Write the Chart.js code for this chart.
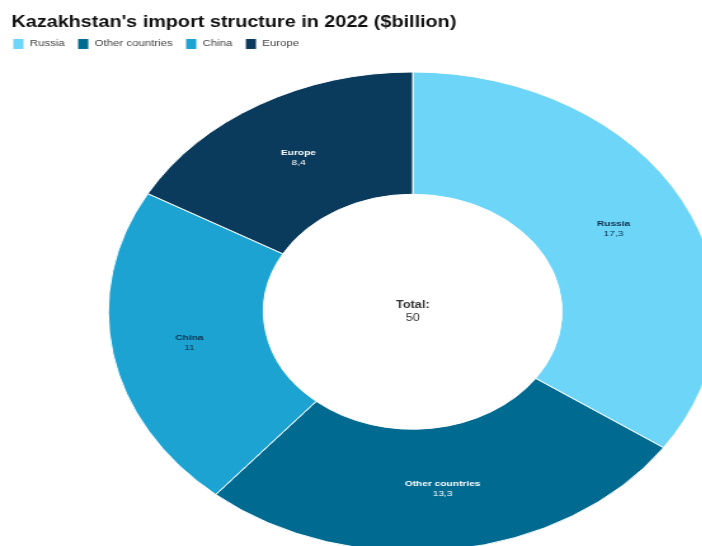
<!DOCTYPE html>
<html>
<head>
<meta charset="utf-8">
<title>Kazakhstan import structure 2022</title>
<script src="https://cdn.jsdelivr.net/npm/chart.js@4"></script>
<style>
  html, body { margin: 0; padding: 0; background: #fff; overflow: hidden; }
  /* the whole figure is drawn narrow and stretched sideways */
  #wrap { width: 553px; height: 546px; overflow: hidden; transform: scaleX(1.27); transform-origin: 0 0; }
  canvas { display: block; }
</style>
</head>
<body>
<div id="wrap"><canvas id="chart" width="650" height="552"></canvas></div>
<script>
const categories = ["Russia", "Other countries", "China", "Europe"];
const imports = [17.3, 13.3, 11, 8.4];
const totalLabel = "Total:";
const totalValue = 50;

const colors = ["#6dd6f8", "#006a91", "#1ca3d2", "#0b3b5c"];
const labelColors = ["#10304a", "#ffffff", "#10304a", "#ffffff"];
const FONT = "'Liberation Sans', Arial, sans-serif";

const fmt = v => String(v).replace(".", ",");

// name + value inside each slice, total in the hole
const sliceLabels = {
  id: "sliceLabels",
  afterDatasetsDraw(chart) {
    const { ctx } = chart;
    const meta = chart.getDatasetMeta(0);
    ctx.save();
    ctx.textAlign = "center";
    ctx.textBaseline = "middle";
    meta.data.forEach((arc, i) => {
      const { x, y } = arc.tooltipPosition();
      ctx.fillStyle = labelColors[i];
      ctx.font = `bold 8px ${FONT}`;
      ctx.fillText(categories[i], x, y - 5);
      ctx.font = `8px ${FONT}`;
      ctx.fillText(fmt(imports[i]), x, y + 5);
    });
    const { x, y } = meta.data[0];
    ctx.fillStyle = "#333";
    ctx.font = `bold 10px ${FONT}`;
    ctx.fillText(totalLabel, x, y - 6);
    ctx.font = `10px ${FONT}`;
    ctx.fillText(String(totalValue), x, y + 7);
    ctx.restore();
  }
};

// nudge the title in from the left edge
const titleInset = {
  id: "titleInset",
  afterLayout(chart) {
    chart.titleBlock.left += 9;
    chart.titleBlock.right += 9;
  }
};

// extra room between the legend and the ring
const legendGap = {
  id: "legendGap",
  beforeInit(chart) {
    const fit = chart.legend.fit;
    chart.legend.fit = function () {
      fit.call(this);
      this.height += 12;
    };
  }
};

new Chart(document.getElementById("chart"), {
  type: "doughnut",
  data: {
    labels: categories,
    datasets: [{
      data: imports,
      backgroundColor: colors,
      borderColor: "#ffffff",
      borderWidth: 1
    }]
  },
  options: {
    responsive: false,
    animation: false,
    cutout: "49%",
    layout: { padding: 0 },
    plugins: {
      title: {
        display: true,
        text: "Kazakhstan's import structure in 2022 ($billion)",
        align: "start",
        color: "#111",
        font: { family: FONT, size: 15.6, weight: "bold", lineHeight: 0.8 },
        padding: { top: 16, bottom: 0 }
      },
      legend: {
        position: "top",
        align: "start",
        labels: {
          boxWidth: 9,
          boxHeight: 11,
          padding: 10,
          color: "#444",
          font: { family: FONT, size: 9 }
        }
      },
      tooltip: { enabled: false }
    }
  },
  plugins: [sliceLabels, titleInset, legendGap]
});
</script>
</body>
</html>
